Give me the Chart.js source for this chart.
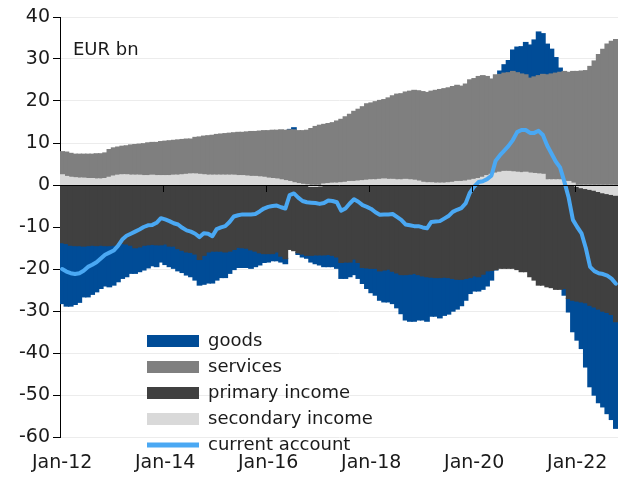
<!DOCTYPE html>
<html>
<head>
<meta charset="utf-8">
<script src="https://cdn.jsdelivr.net/npm/chart.js@4.4.1/dist/chart.umd.min.js"></script>
<style>
  html, body { margin: 0; padding: 0; background: #ffffff; }
  #wrap { width: 618px; height: 477px; }
</style>
</head>
<body>
<div id="wrap"><canvas id="c" width="618" height="477"></canvas></div>
<script>
// ---- categories & tick labels ----
const monthNames = ['Jan','Feb','Mar','Apr','May','Jun','Jul','Aug','Sep','Oct','Nov','Dec'];
const yearSuffixes = ['12','13','14','15','16','17','18','19','20','21','22'];
const categories = yearSuffixes.flatMap(y => monthNames.map(m => m + '-' + y)).slice(0, 130);
const tickLabels = ['Jan-12','Jan-14','Jan-16','Jan-18','Jan-20','Jan-22'];
const unitText = 'EUR bn';
const legendOrder = ['goods','services','primary income','secondary income','current account'];

// ---- series (EUR bn), Jan-12 .. Oct-22 ----
const goods = [
 -14.5,-14.9,-14.5,-14.0,-13.5,-12.1,-12.2,-11.7,-11.0,-10.3,
 -9.6,-9.8,-9.5,-8.6,-8.3,-7.8,-6.7,-6.1,-5.9,-5.9,
 -5.5,-5.1,-5.2,-4.1,-4.9,-4.9,-5.3,-5.3,-5.3,-5.5,
 -5.8,-6.2,-6.1,-6.9,-7.4,-7.6,-6.9,-6.3,-6.1,-5.3,
 -4.8,-4.8,-4.7,-4.6,-4.4,-3.7,-2.9,-2.1,-2.0,-1.7,
 -2.1,-1.4,-1.2,0.1,0.5,-0.4,-0.7,-0.7,-1.6,-2.1,
 -2.4,-2.8,-2.9,-2.7,-2.7,-3.8,-3.9,-3.5,-3.7,-3.8,
 -3.8,-4.9,-5.8,-6.4,-7.0,-7.6,-7.8,-7.7,-8.3,-9.3,
 -10.8,-11.2,-11.4,-10.8,-10.5,-10.6,-9.3,-9.2,-9.6,-9.1,
 -8.7,-7.8,-7.1,-6.3,-5.2,-3.8,-3.6,-3.4,-3.6,-3.6,
 -2.3,-0.1,0.8,2.0,2.9,5.1,6.1,6.5,7.7,7.9,
 8.8,10.4,9.7,7.3,5.9,3.7,1.0,-1.6,-3.2,-7.5,
 -9.3,-11.1,-15.3,-19.4,-21.0,-22.3,-22.8,-24.1,-25.0,-25.4
];
const services = [
 5.5,5.8,5.7,5.6,5.7,5.7,5.8,5.8,6.0,6.0,
 6.1,6.6,6.7,6.7,6.8,6.9,7.2,7.3,7.4,7.6,
 7.8,7.8,7.9,8.1,8.2,8.3,8.3,8.4,8.4,8.4,
 8.3,8.7,8.9,9.2,9.4,9.5,9.7,9.8,9.9,10.0,
 10.1,10.3,10.3,10.5,10.7,10.7,10.9,11.1,11.3,11.5,
 11.6,11.9,12.0,12.3,12.6,12.6,12.8,13.0,13.4,13.9,
 14.2,14.2,14.3,14.4,14.8,15.1,15.6,16.0,16.7,17.1,
 17.6,18.2,18.3,18.6,18.8,18.9,19.4,19.9,20.4,20.5,
 20.8,21.1,21.4,21.5,21.6,21.5,21.8,22.1,22.3,22.5,
 22.6,22.8,22.9,22.7,23.1,23.9,24.0,24.3,24.2,23.6,
 22.7,23.4,23.3,23.4,23.5,23.9,23.7,23.5,23.2,22.6,
 23.0,23.4,23.8,25.0,25.2,25.4,25.6,26.2,26.0,26.6,
 27.0,27.1,27.2,28.2,29.5,31.0,32.3,33.5,34.2,34.6
];
const primaryIncome = [
 -13.7,-13.9,-14.3,-14.4,-14.4,-14.5,-14.4,-14.3,-14.4,-14.3,
 -14.4,-14.4,-14.3,-14.4,-13.9,-14.0,-14.3,-14.9,-14.7,-14.3,
 -14.2,-14.1,-14.2,-14.2,-14.0,-14.5,-14.5,-15.1,-15.5,-15.9,
 -16.0,-16.4,-17.7,-16.7,-15.9,-15.7,-15.7,-15.7,-15.9,-15.7,
 -15.3,-14.8,-14.9,-15.0,-15.4,-15.7,-16.1,-16.3,-16.3,-16.3,
 -15.9,-16.9,-17.5,-15.3,-15.6,-16.1,-16.4,-16.7,-16.4,-16.3,
 -16.4,-16.6,-16.5,-16.7,-17.1,-18.4,-18.3,-18.3,-17.6,-18.4,
 -19.6,-19.7,-19.8,-19.8,-20.4,-20.2,-20.0,-20.5,-20.9,-21.3,
 -21.3,-21.2,-21.0,-21.3,-21.6,-21.8,-21.9,-22.0,-22.0,-21.9,
 -22.0,-22.2,-22.4,-22.4,-22.2,-22.0,-21.6,-21.8,-21.2,-20.4,
 -20.3,-20.1,-19.8,-19.8,-19.8,-19.8,-20.1,-20.6,-20.6,-21.8,
 -22.6,-23.8,-23.8,-24.2,-24.4,-24.8,-24.8,-24.6,-27.0,-27.4,
 -27.3,-27.2,-27.2,-27.6,-27.8,-28.0,-28.2,-28.3,-28.6,-30.1
];
const secondaryIncome = [
 2.4,2.0,1.8,1.7,1.6,1.6,1.5,1.5,1.4,1.4,
 1.5,1.8,2.1,2.3,2.4,2.4,2.3,2.3,2.3,2.2,
 2.2,2.3,2.2,2.2,2.2,2.2,2.3,2.3,2.4,2.5,
 2.6,2.6,2.5,2.4,2.3,2.3,2.3,2.3,2.3,2.3,
 2.3,2.2,2.2,2.1,2.0,2.0,1.9,1.8,1.6,1.5,
 1.4,1.2,1.0,0.8,0.5,0.3,0.1,0.0,-0.3,-0.3,
 -0.2,0.2,0.3,0.4,0.4,0.5,0.6,0.8,0.8,0.9,
 1.0,1.1,1.2,1.2,1.3,1.4,1.3,1.3,1.2,1.2,
 1.3,1.2,1.1,0.9,0.6,0.5,0.5,0.4,0.4,0.4,
 0.5,0.6,0.8,0.8,0.9,1.1,1.3,1.5,1.8,2.2,
 2.5,2.8,3.0,3.2,3.2,3.1,3.0,2.9,3.0,2.8,
 2.7,2.6,2.5,1.2,1.2,1.2,1.2,0.8,0.8,0.4,
 -0.3,-0.6,-0.8,-1.0,-1.2,-1.5,-1.8,-2.0,-2.2,-2.4
];
const currentAccount = [
 -20.0,-20.6,-21.0,-21.2,-21.0,-20.4,-19.5,-19.0,-18.4,-17.5,
 -16.6,-16.1,-15.6,-14.5,-13.0,-12.1,-11.6,-11.1,-10.6,-10.0,
 -9.6,-9.5,-9.0,-7.9,-8.2,-8.6,-9.1,-9.4,-10.2,-10.8,
 -11.1,-11.6,-12.4,-11.5,-11.6,-12.2,-10.5,-10.1,-9.8,-8.8,
 -7.5,-7.2,-7.0,-7.0,-7.0,-6.9,-6.3,-5.6,-5.2,-5.0,
 -4.9,-5.3,-5.6,-2.4,-2.0,-3.0,-3.8,-4.1,-4.2,-4.3,
 -4.5,-4.3,-3.7,-3.8,-4.1,-6.1,-5.6,-4.4,-3.4,-4.0,
 -4.8,-5.2,-5.7,-6.5,-7.1,-7.0,-7.0,-6.9,-7.6,-8.3,
 -9.4,-9.6,-9.8,-9.8,-10.1,-10.3,-8.8,-8.7,-8.6,-8.0,
 -7.4,-6.4,-5.9,-5.5,-4.4,-1.8,-0.4,0.7,0.9,1.4,
 2.2,5.8,7.1,8.2,9.3,10.7,12.6,13.1,13.1,12.4,
 12.4,12.9,11.9,9.4,7.5,5.6,4.2,0.8,-3.0,-8.3,
 -10.0,-11.5,-15.0,-19.5,-20.5,-21.0,-21.2,-21.6,-22.3,-23.5
];

// ---- styles ----
const COLORS = {
  goods: '#004c97',
  services: '#7f7f7f',
  primary: '#404040',
  secondary: '#d9d9d9',
  ca: '#4aa8f3',
  text: '#1a1a1a'
};
const FONT = 'DejaVu Sans';

const legendPlacer = {
  id: 'legendPlacer',
  afterLayout(chart) {
    const lg = chart.legend;
    const a = chart.chartArea;
    if (!lg) return;
    const w = lg.width;
    lg.left = a.left + 79;
    lg.top = a.top + 307;
    lg.right = lg.left + w;
    lg.bottom = lg.top + 150;
  }
};

const unitLabel = {
  id: 'unitLabel',
  afterDatasetsDraw(chart) {
    const { ctx, chartArea: a } = chart;
    ctx.save();
    ctx.font = '18px "' + FONT + '"';
    ctx.fillStyle = COLORS.text;
    ctx.textAlign = 'left';
    ctx.textBaseline = 'middle';
    ctx.fillText(unitText, a.left + 13, a.top + 33);
    ctx.restore();
  }
};

const barBase = { xAxisID: 'x', yAxisID: 'y', order: 1, borderWidth: 0, barPercentage: 1, categoryPercentage: 1, inflateAmount: 0.7, stack: 'bal' };

new Chart(document.getElementById('c'), {
  type: 'bar',
  data: {
    labels: categories,
    datasets: [
      Object.assign({ label: 'secondary income', data: secondaryIncome, backgroundColor: COLORS.secondary }, barBase),
      Object.assign({ label: 'primary income', data: primaryIncome, backgroundColor: COLORS.primary }, barBase),
      Object.assign({ label: 'services', data: services, backgroundColor: COLORS.services }, barBase),
      Object.assign({ label: 'goods', data: goods, backgroundColor: COLORS.goods }, barBase),
      {
        type: 'line', label: 'current account', data: currentAccount,
        xAxisID: 'x', yAxisID: 'y', stack: 'ca', order: 0,
        borderColor: COLORS.ca, backgroundColor: COLORS.ca, borderWidth: 4,
        pointRadius: 0, pointHoverRadius: 0, tension: 0, fill: false,
        borderJoinStyle: 'round', borderCapStyle: 'round'
      }
    ]
  },
  options: {
    responsive: false,
    animation: false,
    devicePixelRatio: 1,
    events: [],
    layout: { padding: { top: 17, right: 0, bottom: 0, left: 0 } },
    plugins: {
      tooltip: { enabled: false },
      title: { display: false },
      legend: {
        display: true,
        position: 'chartArea',
        fullSize: false,
        align: 'start',
        labels: {
          usePointStyle: true,
          pointStyleWidth: 52,
          boxHeight: 12,
          padding: 8,
          color: COLORS.text,
          font: { family: FONT, size: 18 },
          generateLabels(chart) {
            return legendOrder.map(name => {
              const idx = chart.data.datasets.findIndex(d => d.label === name);
              const ds = chart.data.datasets[idx];
              const isLine = ds.type === 'line';
              const col = isLine ? ds.borderColor : ds.backgroundColor;
              return {
                text: name, datasetIndex: idx, hidden: false,
                fillStyle: col, strokeStyle: col,
                lineWidth: isLine ? 5 : 0,
                pointStyle: isLine ? 'line' : 'rect',
                lineCap: 'butt', fontColor: COLORS.text
              };
            });
          }
        }
      }
    },
    scales: {
      x: {
        type: 'category',
        position: 'bottom',
        stacked: true,
        offset: true,
        grid: { display: false, drawTicks: false, offset: true },
        border: { display: false },
        ticks: {
          autoSkip: false, maxRotation: 0, minRotation: 0, padding: 0,
          color: COLORS.text, font: { family: FONT, size: 19, lineHeight: 2.74 },
          callback(value, index) {
            const l = categories[index];
            return tickLabels.includes(l) ? l : '';
          }
        },
        afterFit(scale) { scale.height = 40; }
      },
      x2: {
        type: 'category',
        position: { y: 0 },
        offset: true,
        grid: {
          display: true, drawOnChartArea: false, drawTicks: true, offset: true,
          tickLength: 6, tickWidth: 1, z: 1,
          tickColor: ctx => (ctx.index !== undefined && ctx.index % 24 === 0 && ctx.index > 0) ? '#000000' : 'rgba(0,0,0,0)'
        },
        border: { display: true, color: '#000000', width: 1, z: 1 },
        ticks: { display: false },
        afterFit(scale) { scale.height = 0; }
      },
      y: {
        stacked: true,
        min: -60, max: 40,
        ticks: { stepSize: 10, padding: 3, color: COLORS.text, font: { family: FONT, size: 19 } },
        grid: { color: '#ececec', tickColor: '#000000', tickLength: 7, lineWidth: 1 },
        border: { display: true, color: '#000000', width: 1 },
        afterFit(scale) { scale.width = 60; }
      }
    }
  },
  plugins: [legendPlacer, unitLabel]
});
</script>
</body>
</html>
